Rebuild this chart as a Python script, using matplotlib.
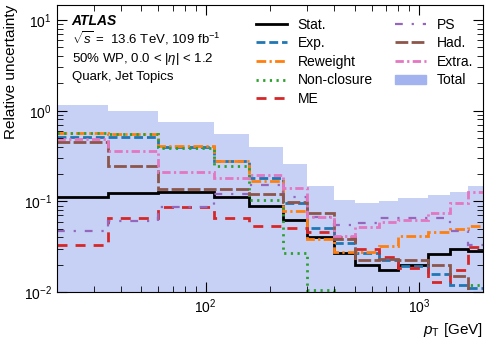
import matplotlib
matplotlib.use("Agg")
import matplotlib.pyplot as plt
from matplotlib.patches import Patch

plt.rcParams["font.family"] = ["Liberation Sans", "DejaVu Sans"]
plt.rcParams["mathtext.fontset"] = "custom"
plt.rcParams["mathtext.rm"] = "Liberation Sans"
plt.rcParams["mathtext.it"] = "Liberation Sans:italic"

# bin edges in pT [GeV]
edges = [20, 35, 60, 110, 160, 230, 300, 400, 500, 650, 800, 1100, 1400, 1700, 2000]

total = [1.17, 1.0, 0.757, 0.55, 0.395, 0.256, 0.148, 0.104, 0.097, 0.101, 0.108, 0.118, 0.126, 0.149]
stat = [0.113, 0.123, 0.128, 0.113, 0.088, 0.0626, 0.041, 0.027, 0.020, 0.0175, 0.0197, 0.026, 0.030, 0.0286]
exp = [0.517, 0.51, 0.40, 0.277, 0.18, 0.095, 0.0506, 0.0346, 0.027, 0.0228, 0.0196, 0.0158, 0.012, 0.0112]
reweight = [0.565, 0.55, 0.408, 0.277, 0.168, 0.079, 0.0385, 0.0277, 0.028, 0.032, 0.042, 0.046, 0.049, 0.054]
nonclosure = [0.563, 0.55, 0.39, 0.246, 0.103, 0.027, 0.0105, 0.005, 0.005, 0.005, 0.005, 0.005, 0.005, 0.012]
me = [0.033, 0.066, 0.086, 0.066, 0.054, 0.051, 0.0465, 0.040, 0.030, 0.0245, 0.0183, 0.013, 0.0175, 0.0316]
ps = [0.047, 0.061, 0.086, 0.12, 0.152, 0.113, 0.068, 0.055, 0.058, 0.065, 0.065, 0.065, 0.047, 0.033]
had = [0.448, 0.246, 0.137, 0.136, 0.12, 0.099, 0.074, 0.0385, 0.0226, 0.023, 0.0226, 0.020, 0.0152, 0.005]
extra = [0.487, 0.36, 0.213, 0.18, 0.197, 0.141, 0.068, 0.042, 0.052, 0.060, 0.0626, 0.074, 0.097, 0.126]

fig = plt.figure(figsize=(4.88, 3.42), dpi=100)
ax = fig.add_axes([0.116, 0.146, 0.874, 0.839])

ax.stairs(total, edges, fill=True, baseline=1e-5, color="#c7d1f5", zorder=0)

lw = 2.0
ax.stairs(stat, edges, baseline=None, color="black", lw=lw, label="Stat.")
ax.stairs(exp, edges, baseline=None, color="#1f77b4", lw=lw, ls=(0, (3.2, 1.4)), label="Exp.")
ax.stairs(reweight, edges, baseline=None, color="#ff7f0e", lw=lw, ls=(0, (3.5, 1.2, 0.8, 1.2)), label="Reweight")
ax.stairs(nonclosure, edges, baseline=None, color="#2ca02c", lw=lw, ls=(0, (0.8, 1.6)), label="Non-closure")
ax.stairs(me, edges, baseline=None, color="#d62728", lw=lw, ls=(0, (3.6, 2.9)), label="ME")
ax.stairs(ps, edges, baseline=None, color="#9467bd", lw=1.6, ls=(0, (3.5, 4, 1, 4)), label="PS")
ax.stairs(had, edges, baseline=None, color="#8c564b", lw=lw, ls=(0, (4.6, 1.2)), label="Had.")
ax.stairs(extra, edges, baseline=None, color="#e377c2", lw=lw, ls=(0, (3, 1.2, 0.8, 1.2)), label="Extra.")

ax.set_xscale("log")
ax.set_yscale("log")
ax.set_xlim(20, 2000)
ax.set_ylim(0.01, 14.6)

ax.tick_params(which="both", direction="in", top=True, right=True, labelsize=10)
ax.tick_params(which="major", length=7)
ax.tick_params(which="minor", length=4)

ax.set_ylabel("Relative uncertainty", fontsize=11, loc="top")
ax.set_xlabel(r"$p_{\mathrm{T}}$ [GeV]", fontsize=11, loc="right")

ax.text(0.035, 0.93, "ATLAS", transform=ax.transAxes, fontsize=10,
        fontweight="bold", fontstyle="italic")
ax.text(0.035, 0.866, r"$\sqrt{s}$ =  13.6 TeV, 109 fb$^{-1}$", transform=ax.transAxes, fontsize=9.5)
ax.text(0.035, 0.802, r"50% WP, 0.0 < $|\eta|$ < 1.2", transform=ax.transAxes, fontsize=9.5)
ax.text(0.035, 0.738, "Quark, Jet Topics", transform=ax.transAxes, fontsize=9.5)

handles, labels = ax.get_legend_handles_labels()
handles = [plt.Line2D([], [], color=h.get_edgecolor(), lw=h.get_linewidth(), ls=h.get_linestyle())
           for h in handles]
handles.append(Patch(color="#a3b3ef", label="Total"))
labels.append("Total")
ax.legend(handles, labels, ncol=2, loc="upper right", bbox_to_anchor=(1.006, 1.0),
          frameon=False, fontsize=10, handlelength=2.2, handletextpad=0.8,
          columnspacing=1.6, labelspacing=0.33)

fig.savefig("out.png", dpi=100)
